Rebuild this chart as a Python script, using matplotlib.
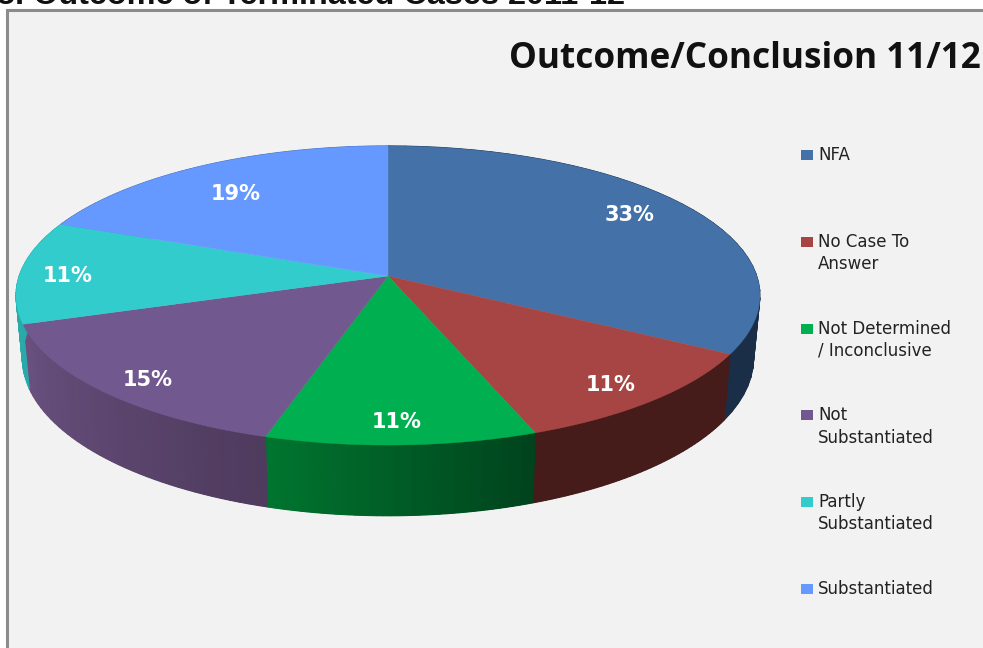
import numpy as np
import matplotlib
matplotlib.use("Agg")
import matplotlib.pyplot as plt
from matplotlib.colors import to_rgb
from matplotlib.patches import Polygon, Rectangle

categories = ["NFA", "No Case To\nAnswer", "Not Determined\n/ Inconclusive",
              "Not\nSubstantiated", "Partly\nSubstantiated", "Substantiated"]
# shares, labels as printed on the slices
values = [33.3, 11.0, 10.4, 15.2, 11.1, 19.0]
labels = ["33%", "11%", "11%", "15%", "11%", "19%"]
colors = ["#4472a8", "#a64543", "#00b050", "#71588f", "#33cccc", "#6699ff"]
# wall shading at the start and end of each slice, going clockwise
wall_start = ["#1a2e47", "#451c1a", "#00431d", "#4f3b5e", "#2aa9a9", "#4466aa"]
wall_end = ["#1a2e47", "#451c1a", "#00752f", "#6a5180", "#2aa9a9", "#4466aa"]

# where the percent labels sit on each slice
label_radius = [0.82, 0.87, 0.88, 0.88, 0.87, 0.75]
label_angle = [57.6, 140.8, 178.7, 222.8, 270.0, 323.5]

# perspective of the pie disc, in pixels
CX, CY = 388, 276
BX, BY = 368.8, 147
K = 0.1304


def rim(theta, r=1.0):
    u = r * np.sin(theta)
    v = r * np.cos(theta)
    s = 1 / (1 + K * v)
    return CX + BX * u * s, CY - BY * v * s, s


def lower_rim(theta):
    x, y, s = rim(theta)
    return CX + (x - CX) * 0.983, y + 61.5 * s


fig = plt.figure(figsize=(9.83, 6.48), dpi=100)
ax = fig.add_axes([0, 0, 1, 1])
ax.set_xlim(0, 983)
ax.set_ylim(648, 0)
ax.axis("off")

ax.add_patch(Rectangle((7, 10), 990, 660, facecolor="#f2f2f2", edgecolor="#8c8c8c", lw=2.2))
ax.text(-3, 4, "5. Outcome of Terminated Cases 2011-12", family="Liberation Sans",
        weight="bold", fontsize=23.3, color="#111111", va="baseline")
ax.text(509, 68, "Outcome/Conclusion 11/12", family="Open Sans", weight="bold",
        fontsize=25.3, color="#111111", va="baseline")

edges = np.cumsum([0] + values) / sum(values) * 2 * np.pi

# walls first, the top face hides what is not visible
for i in range(len(values)):
    t = np.linspace(edges[i], edges[i + 1], 120)
    x, y, _ = rim(t)
    xb, yb = lower_rim(t)
    base = (np.array(to_rgb(wall_start[i])) + np.array(to_rgb(wall_end[i]))) / 2
    pts = list(zip(x, y)) + list(zip(xb[::-1], yb[::-1]))
    ax.add_patch(Polygon(pts, closed=True, facecolor=base, edgecolor="none"))
    steps = np.linspace(edges[i], edges[i + 1], 40)
    for j in range(len(steps) - 1):
        t0, t1 = steps[j], steps[j + 1]
        x0, y0 = rim(t0)[:2]
        x1, y1 = rim(t1)[:2]
        x2, y2 = lower_rim(t1)
        x3, y3 = lower_rim(t0)
        f = j / (len(steps) - 2)
        c = np.array(to_rgb(wall_start[i])) * (1 - f) + np.array(to_rgb(wall_end[i])) * f
        ax.add_patch(Polygon([(x0, y0), (x1, y1), (x2, y2), (x3, y3)], closed=True,
                             facecolor=c, edgecolor=c, lw=0.8))

for i in range(len(values)):
    t = np.linspace(edges[i], edges[i + 1], 120)
    x, y, _ = rim(t)
    pts = [(CX, CY)] + list(zip(x, y))
    ax.add_patch(Polygon(pts, closed=True, facecolor=colors[i], edgecolor=colors[i], lw=0.3))
    lx, ly, _ = rim(np.radians(label_angle[i]), label_radius[i])
    ax.text(lx, ly, labels[i], color="white", weight="bold", fontsize=15,
            ha="center", va="center", family="DejaVu Sans")

# legend, one row every 87 px
for i, name in enumerate(categories):
    y = 155 + 86.8 * i
    ax.add_patch(Rectangle((801, y - 5), 12, 10, facecolor=colors[i], edgecolor="none"))
    ax.text(818, y - 9, name, fontsize=12, color="#222222", va="top", linespacing=1.3,
            family="DejaVu Sans")

fig.savefig("out.png", dpi=100, facecolor="white")
